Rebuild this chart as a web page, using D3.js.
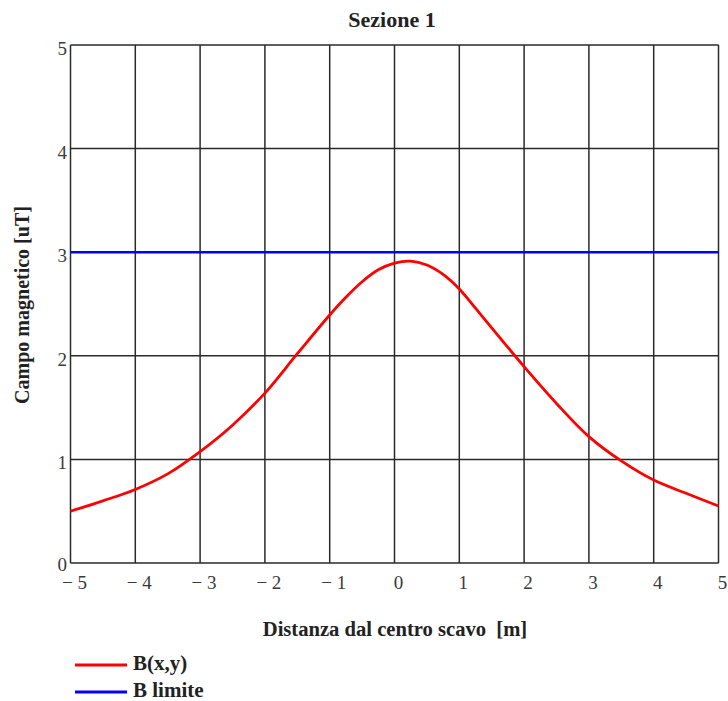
<!DOCTYPE html>
<html>
<head>
<meta charset="utf-8">
<script src="https://cdn.jsdelivr.net/npm/d3@7"></script>
<style>
  html, body { margin: 0; padding: 0; background: #fff; }
  svg { display: block; }
  text { font-family: "Liberation Serif", "Times New Roman", serif; white-space: pre; }
</style>
</head>
<body>
<svg id="chart" width="728" height="701"></svg>
<script>
// ---- data ----
const titleText = "Sezione 1";
const xAxisTitle = "Distanza dal centro scavo  [m]";
const yAxisTitle = "Campo magnetico [uT]";
const xTicks = [-5, -4, -3, -2, -1, 0, 1, 2, 3, 4, 5];
const yTicks = [0, 1, 2, 3, 4, 5];
const seriesNames = ["B(x,y)", "B limite"];
const seriesColors = ["#ff0000", "#0000ff"];
const bx = [-5, -4.5, -4, -3.5, -3, -2.5, -2, -1.5, -1, -0.75, -0.5, -0.25, 0, 0.25, 0.5, 0.75, 1, 1.25, 1.5, 2, 2.5, 3, 3.5, 4, 4.5, 5];
const bValues = [0.50, 0.60, 0.71, 0.86, 1.075, 1.33, 1.64, 2.02, 2.394, 2.565, 2.715, 2.83, 2.895, 2.914, 2.876, 2.785, 2.645, 2.46, 2.27, 1.895, 1.54, 1.22, 0.985, 0.80, 0.673, 0.55];
const bLimit = 3;

(function () {
// ---- layout ----
const svg = d3.select("#chart");
const pLeft = 70.5, pRight = 718.5, pTop = 45, pBottom = 563;
const x = d3.scaleLinear().domain([-5, 5]).range([pLeft, pRight]);
const y = d3.scaleLinear().domain([0, 5]).range([pBottom, pTop]);
const gridColor = "#2a2a2a";
const labelColor = "#3a3a3a";

// grid
const grid = svg.append("g");
grid.selectAll("line.vx").data(xTicks).enter().append("line")
  .attr("x1", d => x(d)).attr("x2", d => x(d))
  .attr("y1", pTop).attr("y2", pBottom)
  .attr("stroke", gridColor).attr("stroke-width", 1.5);
grid.selectAll("line.hy").data(yTicks).enter().append("line")
  .attr("x1", pLeft).attr("x2", pRight)
  .attr("y1", d => y(d)).attr("y2", d => y(d))
  .attr("stroke", gridColor).attr("stroke-width", 1.5);

// tick labels
const fmt = v => v < 0 ? "\u2212 " + Math.abs(v) : String(v);
svg.append("g").selectAll("text").data(xTicks).enter().append("text")
  .attr("x", d => x(d) + 4).attr("y", 589)
  .attr("text-anchor", "middle")
  .attr("font-size", 19).attr("fill", labelColor)
  .text(fmt);
svg.append("g").selectAll("text").data(yTicks).enter().append("text")
  .attr("x", 67).attr("y", d => y(d) + (d === 0 ? 8 : 10))
  .attr("text-anchor", "end")
  .attr("font-size", 19).attr("fill", labelColor)
  .text(d => String(d));

// limit line
svg.append("line")
  .attr("x1", x(-5)).attr("x2", x(5))
  .attr("y1", y(bLimit)).attr("y2", y(bLimit))
  .attr("stroke", seriesColors[1]).attr("stroke-width", 2.5);

// B curve
const line = d3.line()
  .x((d, i) => x(bx[i]))
  .y(d => y(d))
  .curve(d3.curveCatmullRom.alpha(0.5));
svg.append("path")
  .attr("d", line(bValues))
  .attr("fill", "none")
  .attr("stroke", seriesColors[0])
  .attr("stroke-width", 2.8);

// titles
svg.append("text")
  .attr("x", 392).attr("y", 27)
  .attr("text-anchor", "middle")
  .attr("font-weight", "bold").attr("font-size", 22).attr("fill", "#222")
  .text(titleText);
svg.append("text")
  .attr("x", 395).attr("y", 636)
  .attr("text-anchor", "middle")
  .attr("font-weight", "bold").attr("font-size", 20.6).attr("fill", "#222")
  .text(xAxisTitle);
svg.append("text")
  .attr("transform", "translate(29," + ((pTop + pBottom) / 2 + 1) + ") rotate(-90)")
  .attr("text-anchor", "middle")
  .attr("font-weight", "bold").attr("font-size", 20).attr("fill", "#222")
  .text(yAxisTitle);

// legend
const legendY = [665, 692];
const lg = svg.append("g");
seriesNames.forEach((name, i) => {
  lg.append("line")
    .attr("x1", 75).attr("x2", 127)
    .attr("y1", legendY[i]).attr("y2", legendY[i])
    .attr("stroke", seriesColors[i]).attr("stroke-width", 3);
  lg.append("text")
    .attr("x", 133).attr("y", legendY[i] + 5)
    .attr("font-weight", "bold").attr("font-size", 21).attr("fill", "#222")
    .text(name);
});
})();
</script>
</body>
</html>
